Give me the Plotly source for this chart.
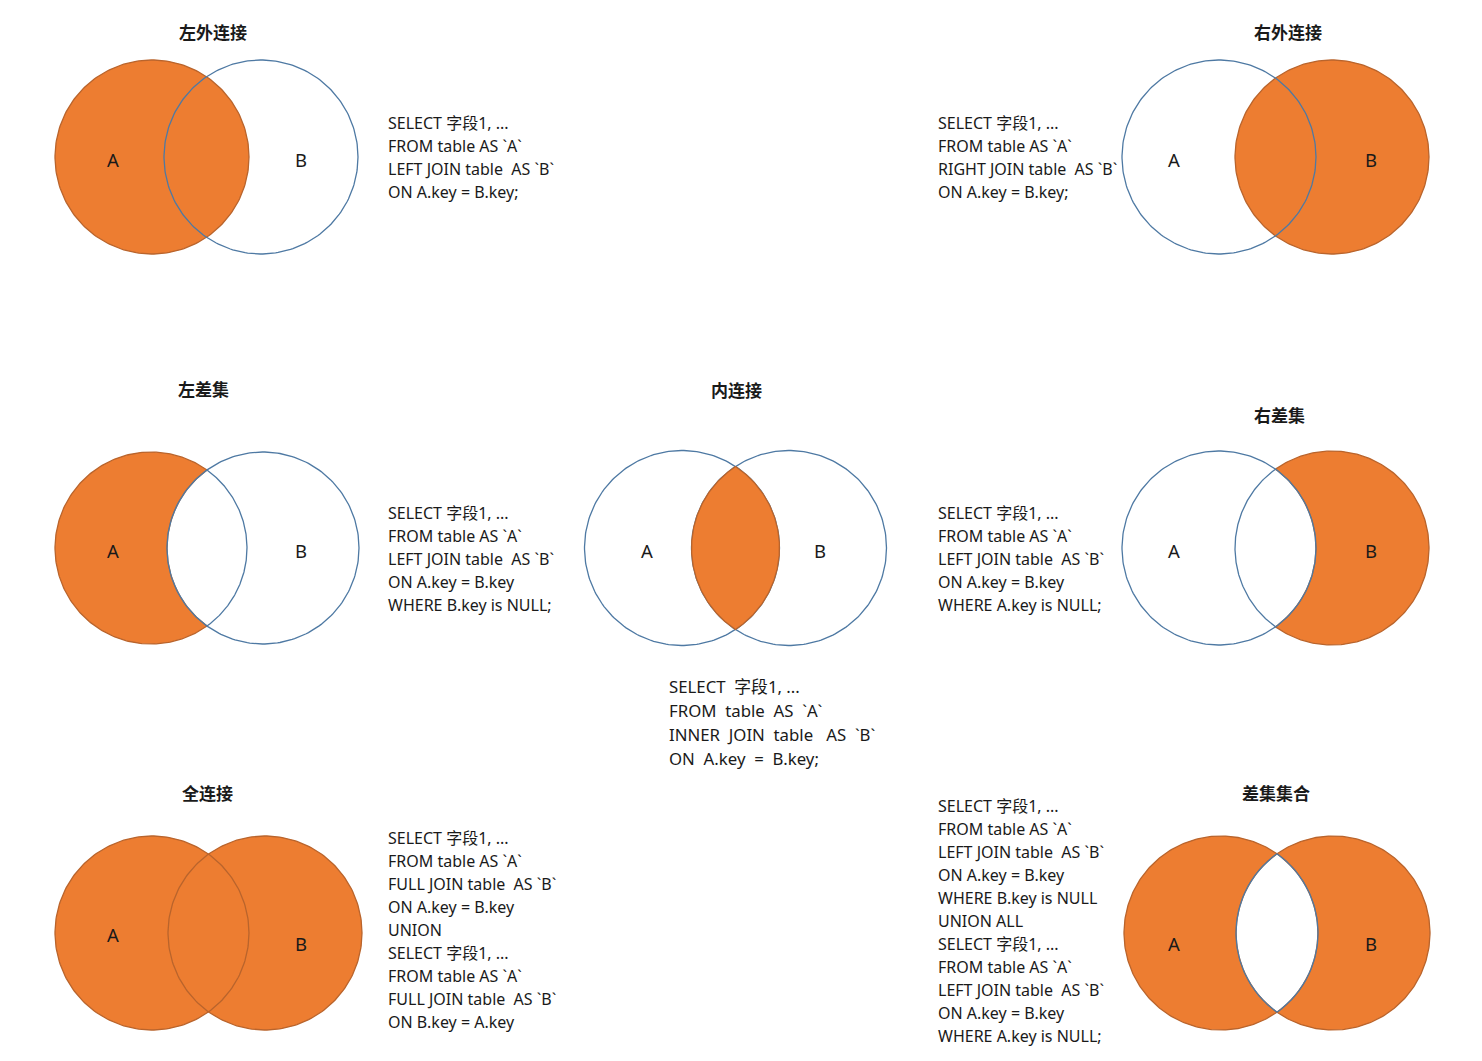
import numpy as np
import plotly.graph_objects as go

# ---------------- data (text content) ----------------
titles = ["左外连接", "右外连接", "左差集", "内连接", "右差集", "全连接", "差集集合"]
set_labels = ["A", "B"]

sql_left_join = ["SELECT 字段1, ...", "FROM table AS `A`", "LEFT JOIN table  AS `B`", "ON A.key = B.key;"]
sql_right_join = ["SELECT 字段1, ...", "FROM table AS `A`", "RIGHT JOIN table  AS `B`", "ON A.key = B.key;"]
sql_left_only = ["SELECT 字段1, ...", "FROM table AS `A`", "LEFT JOIN table  AS `B`", "ON A.key = B.key",
                 "WHERE B.key is NULL;"]
sql_inner = ["SELECT  字段1, ...", "FROM  table  AS  `A`", "INNER  JOIN  table   AS  `B`", "ON  A.key  =  B.key;"]
sql_right_only = ["SELECT 字段1, ...", "FROM table AS `A`", "LEFT JOIN table  AS `B`", "ON A.key = B.key",
                  "WHERE A.key is NULL;"]
sql_full = ["SELECT 字段1, ...", "FROM table AS `A`", "FULL JOIN table  AS `B`", "ON A.key = B.key", "UNION",
            "SELECT 字段1, ...", "FROM table AS `A`", "FULL JOIN table  AS `B`", "ON B.key = A.key"]
sql_sym = ["SELECT 字段1, ...", "FROM table AS `A`", "LEFT JOIN table  AS `B`", "ON A.key = B.key",
           "WHERE B.key is NULL", "UNION ALL", "SELECT 字段1, ...", "FROM table AS `A`",
           "LEFT JOIN table  AS `B`", "ON A.key = B.key", "WHERE A.key is NULL;"]
sql_texts = [sql_left_join, sql_right_join, sql_left_only, sql_inner, sql_right_only, sql_full, sql_sym]
modes = ["left", "right", "left_only", "inner", "right_only", "full", "sym"]

# ---------------- layout / style ----------------
W, H = 1482, 1061
OFF = 8  # page body margin offset so that data coords == screen pixels
ORANGE = "#ED7D31"
ORANGE_EDGE = "#B9642C"
BLUE_EDGE = "#4E79A3"
LW = 1.3
FONT = "Noto Sans, Noto Sans CJK SC, sans-serif"
CJK = "Noto Sans CJK SC, sans-serif"

geo = [
    dict(ca=152, cb=261, cy=157, r=97, title=(213, 31), la=(113, 159), lb=(301, 159), sql=(386, 123), step=23, fs=16),
    dict(ca=1219, cb=1332, cy=157, r=97, title=(1288, 31), la=(1174, 159), lb=(1371, 159), sql=(936, 123), step=23, fs=16),
    dict(ca=151, cb=263, cy=548, r=96, title=(203, 388), la=(113, 550), lb=(301, 550), sql=(386, 513), step=23, fs=16),
    dict(ca=682, cb=789, cy=548, r=97.5, title=(736, 389), la=(647, 550), lb=(820, 550), sql=(667, 686), step=24, fs=16.8),
    dict(ca=1219, cb=1332, cy=548, r=97, title=(1279, 414), la=(1174, 550), lb=(1371, 550), sql=(936, 513), step=23, fs=16),
    dict(ca=152, cb=265, cy=933, r=97, title=(207, 792), la=(113, 934), lb=(301, 943), sql=(386, 838), step=23, fs=16),
    dict(ca=1221, cb=1333, cy=933, r=97, title=(1276, 792), la=(1174, 943), lb=(1371, 943), sql=(936, 806), step=23, fs=16),
]

fig = go.Figure()


def arc(cx, cy, r, t0, t1, n=240):
    t = np.linspace(t0, t1, n)
    return cx + r * np.cos(t), cy + r * np.sin(t)


def add(xs, ys, fill=None, line=None, width=LW):
    kw = dict(x=list(xs), y=list(ys), mode="lines", hoverinfo="skip", showlegend=False)
    if fill:
        kw.update(fill="toself", fillcolor=fill)
    if line:
        kw["line"] = dict(color=line, width=width)
    else:
        kw["line"] = dict(color="rgba(0,0,0,0)", width=0)
    fig.add_trace(go.Scatter(**kw))


for g, mode in zip(geo, modes):
    ca, cb, cy, r = g["ca"], g["cb"], g["cy"], g["r"]
    d = cb - ca
    a = d / 2.0
    h = np.sqrt(r * r - a * a)
    al = np.arctan2(h, a)
    be = np.arctan2(h, a)
    full = (0, 2 * np.pi)
    A_full = arc(ca, cy, r, *full)
    B_full = arc(cb, cy, r, *full)
    A_in = arc(ca, cy, r, -al, al)
    A_out = arc(ca, cy, r, al, 2 * np.pi - al)
    B_in = arc(cb, cy, r, np.pi - be, np.pi + be)
    B_out = arc(cb, cy, r, -(np.pi - be), np.pi - be)
    lens = (np.r_[A_in[0], B_in[0]], np.r_[A_in[1], B_in[1]])
    cresA = (np.r_[A_out[0], B_in[0][::-1]], np.r_[A_out[1], B_in[1][::-1]])
    cresB = (np.r_[B_out[0], A_in[0][::-1]], np.r_[B_out[1], A_in[1][::-1]])

    if mode == "left":
        add(*A_full, fill=ORANGE, line=ORANGE_EDGE)
        add(*B_full, line=BLUE_EDGE)
    elif mode == "right":
        add(*B_full, fill=ORANGE, line=ORANGE_EDGE)
        add(*A_full, line=BLUE_EDGE)
    elif mode == "left_only":
        add(*cresA, fill=ORANGE, line=ORANGE_EDGE)
        add(*B_full, line=BLUE_EDGE)
        add(*A_in, line=BLUE_EDGE)
    elif mode == "right_only":
        add(*cresB, fill=ORANGE, line=ORANGE_EDGE)
        add(*A_full, line=BLUE_EDGE)
        add(*B_in, line=BLUE_EDGE)
    elif mode == "inner":
        add(*A_full, line=BLUE_EDGE)
        add(*B_full, line=BLUE_EDGE)
        add(*lens, fill=ORANGE, line=ORANGE_EDGE)
    elif mode == "full":
        add(*A_full, fill=ORANGE)
        add(*B_full, fill=ORANGE)
        add(*A_full, line=ORANGE_EDGE)
        add(*B_full, line=ORANGE_EDGE)
    elif mode == "sym":
        add(*cresA, fill=ORANGE, line=ORANGE_EDGE)
        add(*cresB, fill=ORANGE, line=ORANGE_EDGE)
        add(*A_in, line=BLUE_EDGE)
        add(*B_in, line=BLUE_EDGE)

annotations = []
for g, title, lines in zip(geo, titles, sql_texts):
    annotations.append(dict(x=g["title"][0], y=g["title"][1], text="<b>" + title + "</b>", showarrow=False,
                            xanchor="center", yanchor="middle", font=dict(family=CJK, size=17, color="#1a1a1a")))
    for lab, pos in zip(set_labels, [g["la"], g["lb"]]):
        annotations.append(dict(x=pos[0], y=pos[1], text=lab, showarrow=False, xanchor="center",
                                yanchor="middle", font=dict(family=FONT, size=18.5, color="#1a1a1a")))
    sx, sy = g["sql"]
    for i, ln in enumerate(lines):
        annotations.append(dict(x=sx, y=sy + i * g["step"], text=ln.replace("  ", "\u00a0 "), showarrow=False,
                                xanchor="left", yanchor="middle",
                                font=dict(family=FONT, size=g["fs"], color="#1a1a1a")))

fig.update_layout(
    width=W, height=H,
    margin=dict(l=0, r=0, t=0, b=0),
    paper_bgcolor="white", plot_bgcolor="white",
    xaxis=dict(range=[OFF, W + OFF], visible=False, fixedrange=True),
    yaxis=dict(range=[H + OFF, OFF], visible=False, fixedrange=True),
    annotations=annotations,
    showlegend=False,
)

fig.write_html("out.html")
